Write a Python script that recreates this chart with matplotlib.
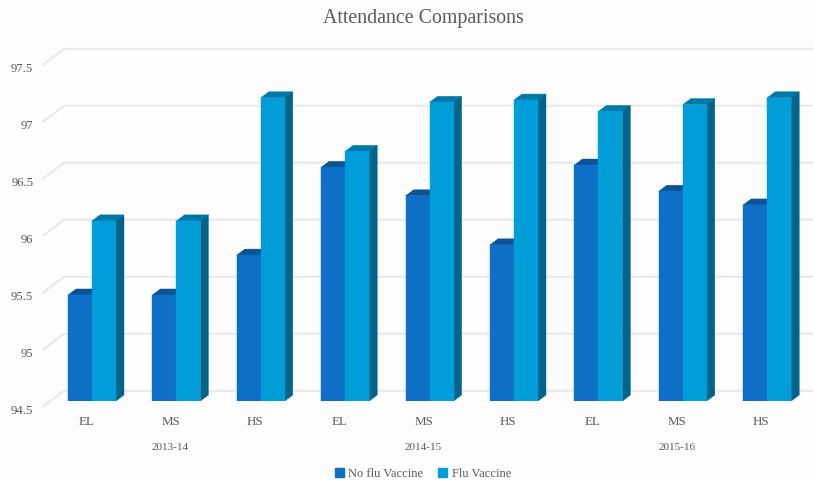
import matplotlib
matplotlib.use("Agg")
import matplotlib.pyplot as plt
from matplotlib.patches import Polygon, Patch
from matplotlib.transforms import ScaledTranslation

years = ["2013-14", "2014-15", "2015-16"]
levels = ["EL", "MS", "HS"] * 3
no_flu = [95.43, 95.43, 95.78, 96.55, 96.30, 95.87, 96.57, 96.34, 96.22]
flu = [96.08, 96.08, 97.16, 96.69, 97.12, 97.14, 97.04, 97.10, 97.16]
y_ticks = [94.5, 95, 95.5, 96, 96.5, 97, 97.5]
y_labels = ["94.5", "95", "95.5", "96", "96.5", "97", "97.5"]

W, H = 813, 481
PX = 84.4      # px per category
PY = 114.0     # px per value unit
BASE = 402.0   # px row of the bar base
DEPTH_X, DEPTH_Y = 8 / PX, 6 / PY
BAR = 24 / PX

C_BG = "#fdfdfd"
C_GRID = "#e8e8e8"
C_TEXT = "#595959"
C_NF, C_NF_TOP, C_NF_SIDE = "#0f6fc6", "#0b5394", "#0a4f8e"
C_F, C_F_TOP, C_F_SIDE = "#009dd9", "#0079a8", "#00648b"

fig = plt.figure(figsize=(W / 100, H / 100), dpi=100, facecolor=C_BG)
plt.rcParams["font.family"] = ["Liberation Serif", "DejaVu Serif"]

left_px, right_px = 43, 813
top_px = BASE - 3 * PY
ax = fig.add_axes([left_px / W, 1 - BASE / H, (right_px - left_px) / W, (BASE - top_px) / H])
ax.set_facecolor("none")
ax.set_xlim((left_px - 92) / PX, (right_px - 92) / PX)
ax.set_ylim(94.5, 97.5)
for s in ax.spines.values():
    s.set_visible(False)

# Walls of the 3D frame: floor/wall gridlines
x_front = ax.get_xlim()[0]
x_back = x_front + 21 / PX
x_end = ax.get_xlim()[1]
for v in y_ticks:
    ax.plot([x_front, x_back, x_end],
            [v - 5.7 / PY, v + 10.3 / PY, v + 10.3 / PY],
            color=C_GRID, lw=1.4, clip_on=False, zorder=1,
            solid_joinstyle="miter")


def bar3d(x0, value, front, top, side, z):
    x1 = x0 + BAR
    ax.add_patch(Polygon([(x0, value), (x1, value), (x1 + DEPTH_X, value + DEPTH_Y),
                          (x0 + DEPTH_X, value + DEPTH_Y)],
                         closed=True, fc=top, ec=top, lw=0.3, zorder=z, clip_on=False))
    ax.add_patch(Polygon([(x1, 94.5), (x1 + DEPTH_X, 94.5 + DEPTH_Y),
                          (x1 + DEPTH_X, value + DEPTH_Y), (x1, value)],
                         closed=True, fc=side, ec=side, lw=0.3, zorder=z, clip_on=False))
    ax.bar(x0, value - 94.5, BAR, bottom=94.5, align="edge", color=front,
           ec=front, lw=0.3, zorder=z)


for i, (a, b) in enumerate(zip(no_flu, flu)):
    bar3d(i - BAR, a, C_NF, C_NF_TOP, C_NF_SIDE, 3)
    bar3d(i, b, C_F, C_F_TOP, C_F_SIDE, 4)

# Axis labels
ax.tick_params(length=0)
ax.set_yticks(y_ticks, y_labels, fontsize=9.2, color=C_TEXT)
ax.tick_params(axis="y", labelcolor=C_TEXT, pad=7)
y_shift = ScaledTranslation(0, -7.5 / 100, fig.dpi_scale_trans)
for lab in ax.get_yticklabels():
    lab.set_transform(lab.get_transform() + y_shift)

ax.set_xticks(range(len(levels)), levels, fontsize=9.3)
ax.tick_params(axis="x", labelcolor=C_TEXT, pad=10)
x_shift = ScaledTranslation(-6 / 100, 0, fig.dpi_scale_trans)
for lab in ax.get_xticklabels():
    lab.set_transform(lab.get_transform() + x_shift)

trans = ax.get_xaxis_transform()
for j, yr in enumerate(years):
    ax.text(3 * j + 1 - 6 / PX, -(448 - BASE) / (BASE - top_px), yr, transform=trans,
            ha="center", va="center", fontsize=8, color=C_TEXT)

fig.text(423 / W, 1 - 19 / H, "Attendance Comparisons", ha="center", va="center",
         fontsize=14.3, color=C_TEXT)

fig.legend(handles=[Patch(color=C_NF, label="No flu Vaccine"), Patch(color=C_F, label="Flu Vaccine")],
           loc="center", bbox_to_anchor=(423 / W, 1 - 474.5 / H), ncol=2, frameon=False,
           fontsize=9, labelcolor=C_TEXT, handlelength=0.7, handleheight=0.7,
           handletextpad=0.35, columnspacing=1.2)

fig.savefig("out.png", dpi=100, facecolor=C_BG)
